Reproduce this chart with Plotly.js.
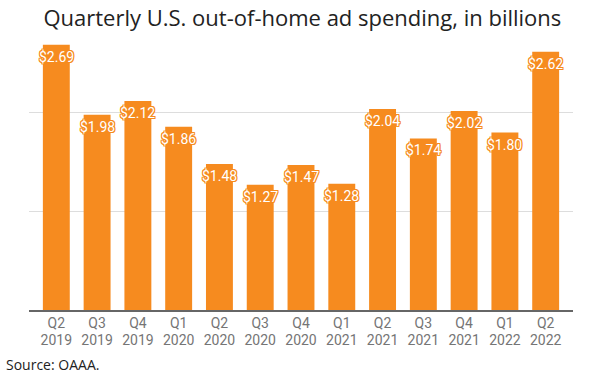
<!DOCTYPE html>
<html>
<head>
<meta charset="utf-8">
<script src="https://cdn.plot.ly/plotly-3.0.1.min.js"></script>
<style>html,body{margin:0;padding:0;background:#fff;}#chart{width:600px;height:375px;}</style>
</head>
<body>
<div id="chart"></div>
<script>
const quarters = ["Q2","Q3","Q4","Q1","Q2","Q3","Q4","Q1","Q2","Q3","Q4","Q1","Q2"];
const years = ["2019","2019","2019","2020","2020","2020","2020","2021","2021","2021","2021","2022","2022"];
const spending = [2.69, 1.98, 2.12, 1.86, 1.48, 1.27, 1.47, 1.28, 2.04, 1.74, 2.02, 1.80, 2.62];
const gridVals = [0, 1, 2];
const categories = quarters.map((q, i) => q + " " + years[i]);
const orange = "#F68B1F";

const shadow = ["1px 0","-1px 0","0 1px","0 -1px","1px 1px","-1px -1px","1px -1px","-1px 1px"]
  .map(s => s + " 0.5px " + orange).join(", ");

const labels = categories.map((c, i) => ({
  x: c, y: spending[i], xref: "x", yref: "y",
  text: "$" + spending[i].toFixed(2),
  showarrow: false, yanchor: "middle", yshift: -12,
  font: {family: "Roboto", size: 14, color: "#ffffff", shadow: shadow}
}));

labels.push({
  xref: "paper", yref: "paper", x: -0.046, y: -0.197, xanchor: "left", yanchor: "middle",
  text: "Source: OAAA.", showarrow: false,
  font: {family: "Open Sans", size: 14, color: "#222222"}
});

const trace = {
  type: "bar", x: categories, y: spending,
  marker: {color: orange}, width: 0.66,
  hoverinfo: "none"
};

// invisible companion trace so the year-label axis is drawn
const yearTrace = {
  type: "scatter", mode: "markers", xaxis: "x2", yaxis: "y",
  x: years.map((_, i) => i), y: spending,
  marker: {opacity: 0, size: 1}, hoverinfo: "none", showlegend: false
};

const tickFont = {family: "Roboto", size: 14, color: "#757575"};

const layout = {
  width: 600, height: 375,
  margin: {l: 29, r: 27, t: 34, b: 65},
  paper_bgcolor: "#ffffff", plot_bgcolor: "#ffffff",
  title: {text: "Quarterly U.S. out-of-home ad spending, in billions",
    font: {family: "Open Sans", size: 22, color: "#222222"},
    x: 0.504, xanchor: "center", y: 0.952, yanchor: "middle", yref: "container"},
  xaxis: {type: "category", range: [-0.67, 12.67], showgrid: false,
    showline: true, linecolor: "#666666", linewidth: 1.5, ticks: "",
    tickmode: "array", tickvals: categories, ticktext: quarters,
    tickfont: tickFont, fixedrange: true},
  xaxis2: {type: "linear", overlaying: "x", anchor: "y", side: "bottom",
    range: [-0.67, 12.67], showgrid: false, showline: false, zeroline: false, ticks: "",
    tickmode: "array", tickvals: years.map((_, i) => i), ticktext: years,
    ticklabelstandoff: 20, tickfont: tickFont, fixedrange: true},
  yaxis: {range: [0, 2.8], tickvals: gridVals, showticklabels: false, showgrid: true,
    gridcolor: "#dddddd", gridwidth: 1, zeroline: false, showline: false, ticks: "", fixedrange: true},
  annotations: labels,
  showlegend: false, bargap: 0.34
};

Plotly.newPlot("chart", [trace, yearTrace], layout, {displayModeBar: false, staticPlot: true});
</script>
</body>
</html>
